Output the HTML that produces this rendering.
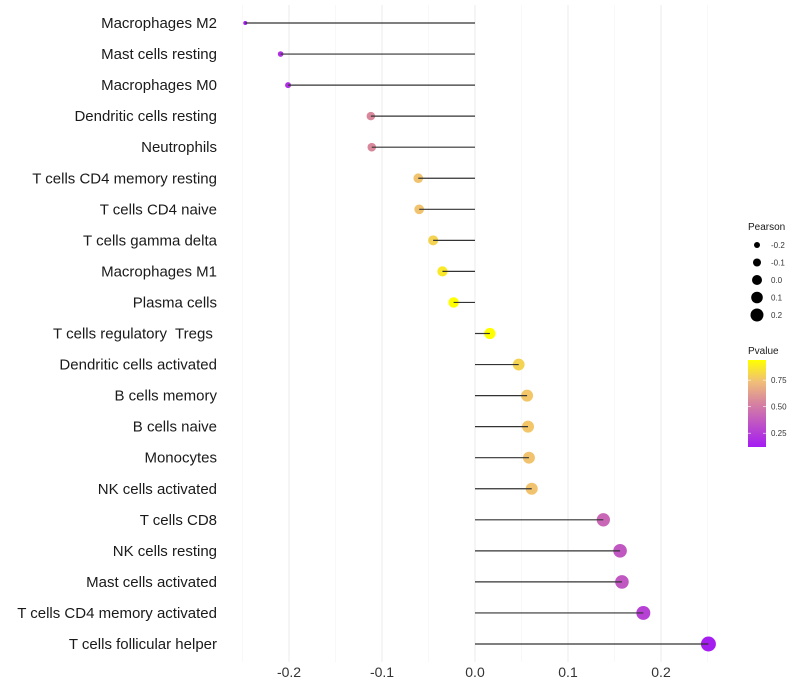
<!DOCTYPE html>
<html><head><meta charset="utf-8"><style>
body{margin:0;background:#fff;}
svg{display:block;font-family:"Liberation Sans",sans-serif;}
text{white-space:pre;}
</style></head><body>
<svg id="chart" width="800" height="700"></svg>
<script>
const categories=["Macrophages M2","Mast cells resting","Macrophages M0","Dendritic cells resting","Neutrophils","T cells CD4 memory resting","T cells CD4 naive","T cells gamma delta","Macrophages M1","Plasma cells","T cells regulatory  Tregs ","Dendritic cells activated","B cells memory","B cells naive","Monocytes","NK cells activated","T cells CD8","NK cells resting","Mast cells activated","T cells CD4 memory activated","T cells follicular helper"];
const pearson=[-0.247,-0.209,-0.201,-0.112,-0.111,-0.061,-0.060,-0.045,-0.035,-0.023,0.016,0.047,0.056,0.057,0.058,0.061,0.138,0.156,0.158,0.181,0.251];
const pvalue=[0.12,0.2,0.2,0.55,0.55,0.75,0.75,0.8,0.87,0.95,0.95,0.8,0.76,0.76,0.75,0.75,0.42,0.36,0.36,0.27,0.13];
const xTicks=[-0.2,-0.1,0.0,0.1,0.2];
const xTickLabels=["-0.2","-0.1","0.0","0.1","0.2"];
const sizeBreaks=[-0.2,-0.1,0.0,0.1,0.2];
const sizeLabels=["-0.2","-0.1","0.0","0.1","0.2"];
const colorBreaks=[0.25,0.5,0.75];
const colorLabels=["0.25","0.50","0.75"];

const NS="http://www.w3.org/2000/svg";
const svg=document.getElementById('chart');
function mk(tag,attrs,parent){const e=document.createElementNS(NS,tag);for(const k in attrs)e.setAttribute(k,attrs[k]);(parent||svg).appendChild(e);return e;}
const x=v=>475+v*930;
const y=i=>23+i*31.05;
const r=v=>Math.sqrt(Math.max(2,29.8+104.4*v));
const stops=[[0,[164,28,242]],[0.5,[214,130,160]],[0.75,[240,190,120]],[1,[255,255,0]]];
function col(p){let t=(p-0.12)/(0.94-0.12);t=Math.max(0,Math.min(1,t));for(let k=1;k<stops.length;k++){if(t<=stops[k][0]){const a=stops[k-1],b=stops[k];const f=(t-a[0])/(b[0]-a[0]);const c=a[1].map((v,j)=>Math.round(v+(b[1][j]-v)*f));return `rgb(${c})`;}}return 'rgb(255,255,0)';}

for(let v=-0.25;v<=0.2501;v+=0.05){
  const major=Math.abs(Math.round(v*100)%10)===0;
  const g=mk('line',{x1:x(v),x2:x(v),y1:5,y2:662,stroke:major?'#ebebeb':'#f4f4f4','stroke-width':major?1:0.6});
  
  
}
xTicks.forEach((v,i)=>{
  const t=mk('text',{x:x(v),y:677,'text-anchor':'middle','font-size':14,fill:'#333'});
  t.textContent=xTickLabels[i];
  
  
});
categories.forEach((c,i)=>{
  const t=mk('text',{x:217,y:y(i)+5,'text-anchor':'end','font-size':15,fill:'#1a1a1a'});
  t.textContent=c;
  
  
  const d=mk('circle',{cx:x(pearson[i]),cy:y(i),r:r(pearson[i]),fill:col(pvalue[i])});
  
  
  const l=mk('line',{x1:x(0),x2:x(pearson[i]),y1:y(i),y2:y(i),stroke:'#333','stroke-width':1.2});
  
  
});
const st=mk('text',{x:748,y:230,'font-size':10,fill:'#1a1a1a'});st.textContent='Pearson';


sizeBreaks.forEach((v,i)=>{
  const cy=245+i*17.5;
  const c=mk('circle',{cx:757,cy:cy,r:[3,4,5,5.8,6.5][i],fill:'#000'});
  
  
  const t=mk('text',{x:771,y:cy+3,'font-size':8,fill:'#333'});t.textContent=sizeLabels[i];
  
  
});
const ct=mk('text',{x:748,y:354,'font-size':10,fill:'#1a1a1a'});ct.textContent='Pvalue';


const defs=mk('defs',{});
const lg=mk('linearGradient',{id:'pg',x1:0,y1:1,x2:0,y2:0},defs);
for(let k=0;k<=20;k++){const p=0.12+(0.94-0.12)*k/20;mk('stop',{offset:k/20,'stop-color':col(p)},lg);}
const bar=mk('rect',{x:748,y:360,width:18,height:87,fill:'url(#pg)'});


const py=p=>447-(p-0.12)/(0.94-0.12)*87;
colorBreaks.forEach((p,i)=>{
  mk('line',{x1:748,x2:751,y1:py(p),y2:py(p),stroke:'#fff','stroke-width':0.6});
  mk('line',{x1:763,x2:766,y1:py(p),y2:py(p),stroke:'#fff','stroke-width':0.6});
  const t=mk('text',{x:771,y:py(p)+3,'font-size':8,fill:'#333'});t.textContent=colorLabels[i];
  
  
});
</script>
</body></html>
